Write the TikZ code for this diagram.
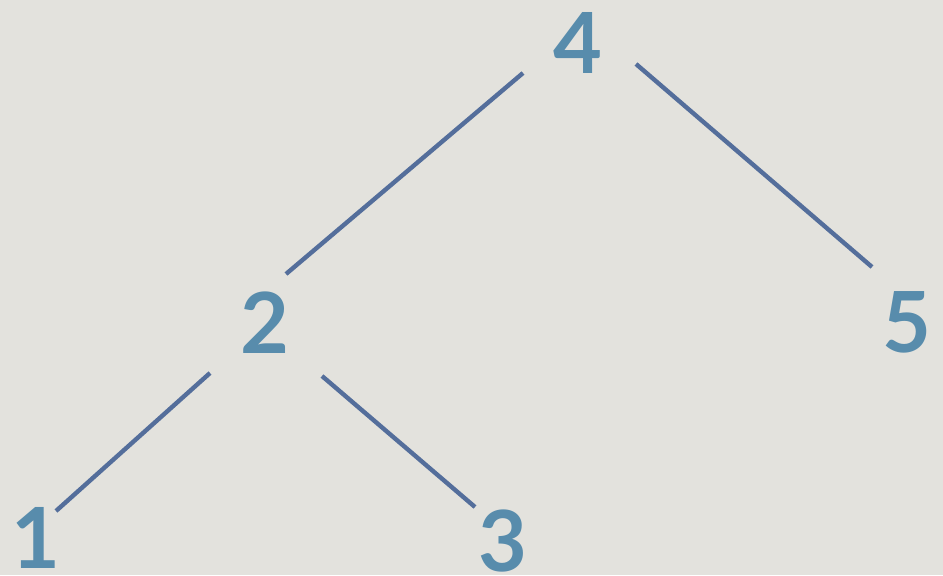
\documentclass[tikz,border=0pt]{standalone}
\usepackage{fontspec}
\setmainfont{Lato}
\usepackage{xcolor}
\usetikzlibrary{positioning}
\definecolor{paper}{RGB}{227,226,221}
\definecolor{keyblue}{RGB}{88,140,172}
\definecolor{lineblue}{RGB}{84,110,155}

\begin{document}
\begin{tikzpicture}[
 x=0.02cm, y=-0.02cm,
 key/.style={text=keyblue, inner sep=0pt,
   font=\fontsize{48}{48}\selectfont\bfseries},
 edge/.style={draw=lineblue, line width=2.5pt}
]
\fill[paper] (0,0) rectangle (943,575);
\useasboundingbox (0,0) rectangle (943,575);
\node[key] (n4) at (578,43) {4};
\node[key] (n2) at (265,323) {2};
\node[key] (n5) at (907,322) {5};
\node[key] (n1) at (36,538) {1};
\node[key] (n3) at (503,541) {3};
\draw[edge] ([shift={(-55,30)}]n4.center) -- ([shift={(21,-49)}]n2.center);
\draw[edge] ([shift={(58,21)}]n4.center) -- ([shift={(-35,-55)}]n5.center);
\draw[edge] ([shift={(-55,50)}]n2.center) -- ([shift={(20,-27)}]n1.center);
\draw[edge] ([shift={(57,53)}]n2.center) -- ([shift={(-28,-34)}]n3.center);
\end{tikzpicture}
\end{document}
